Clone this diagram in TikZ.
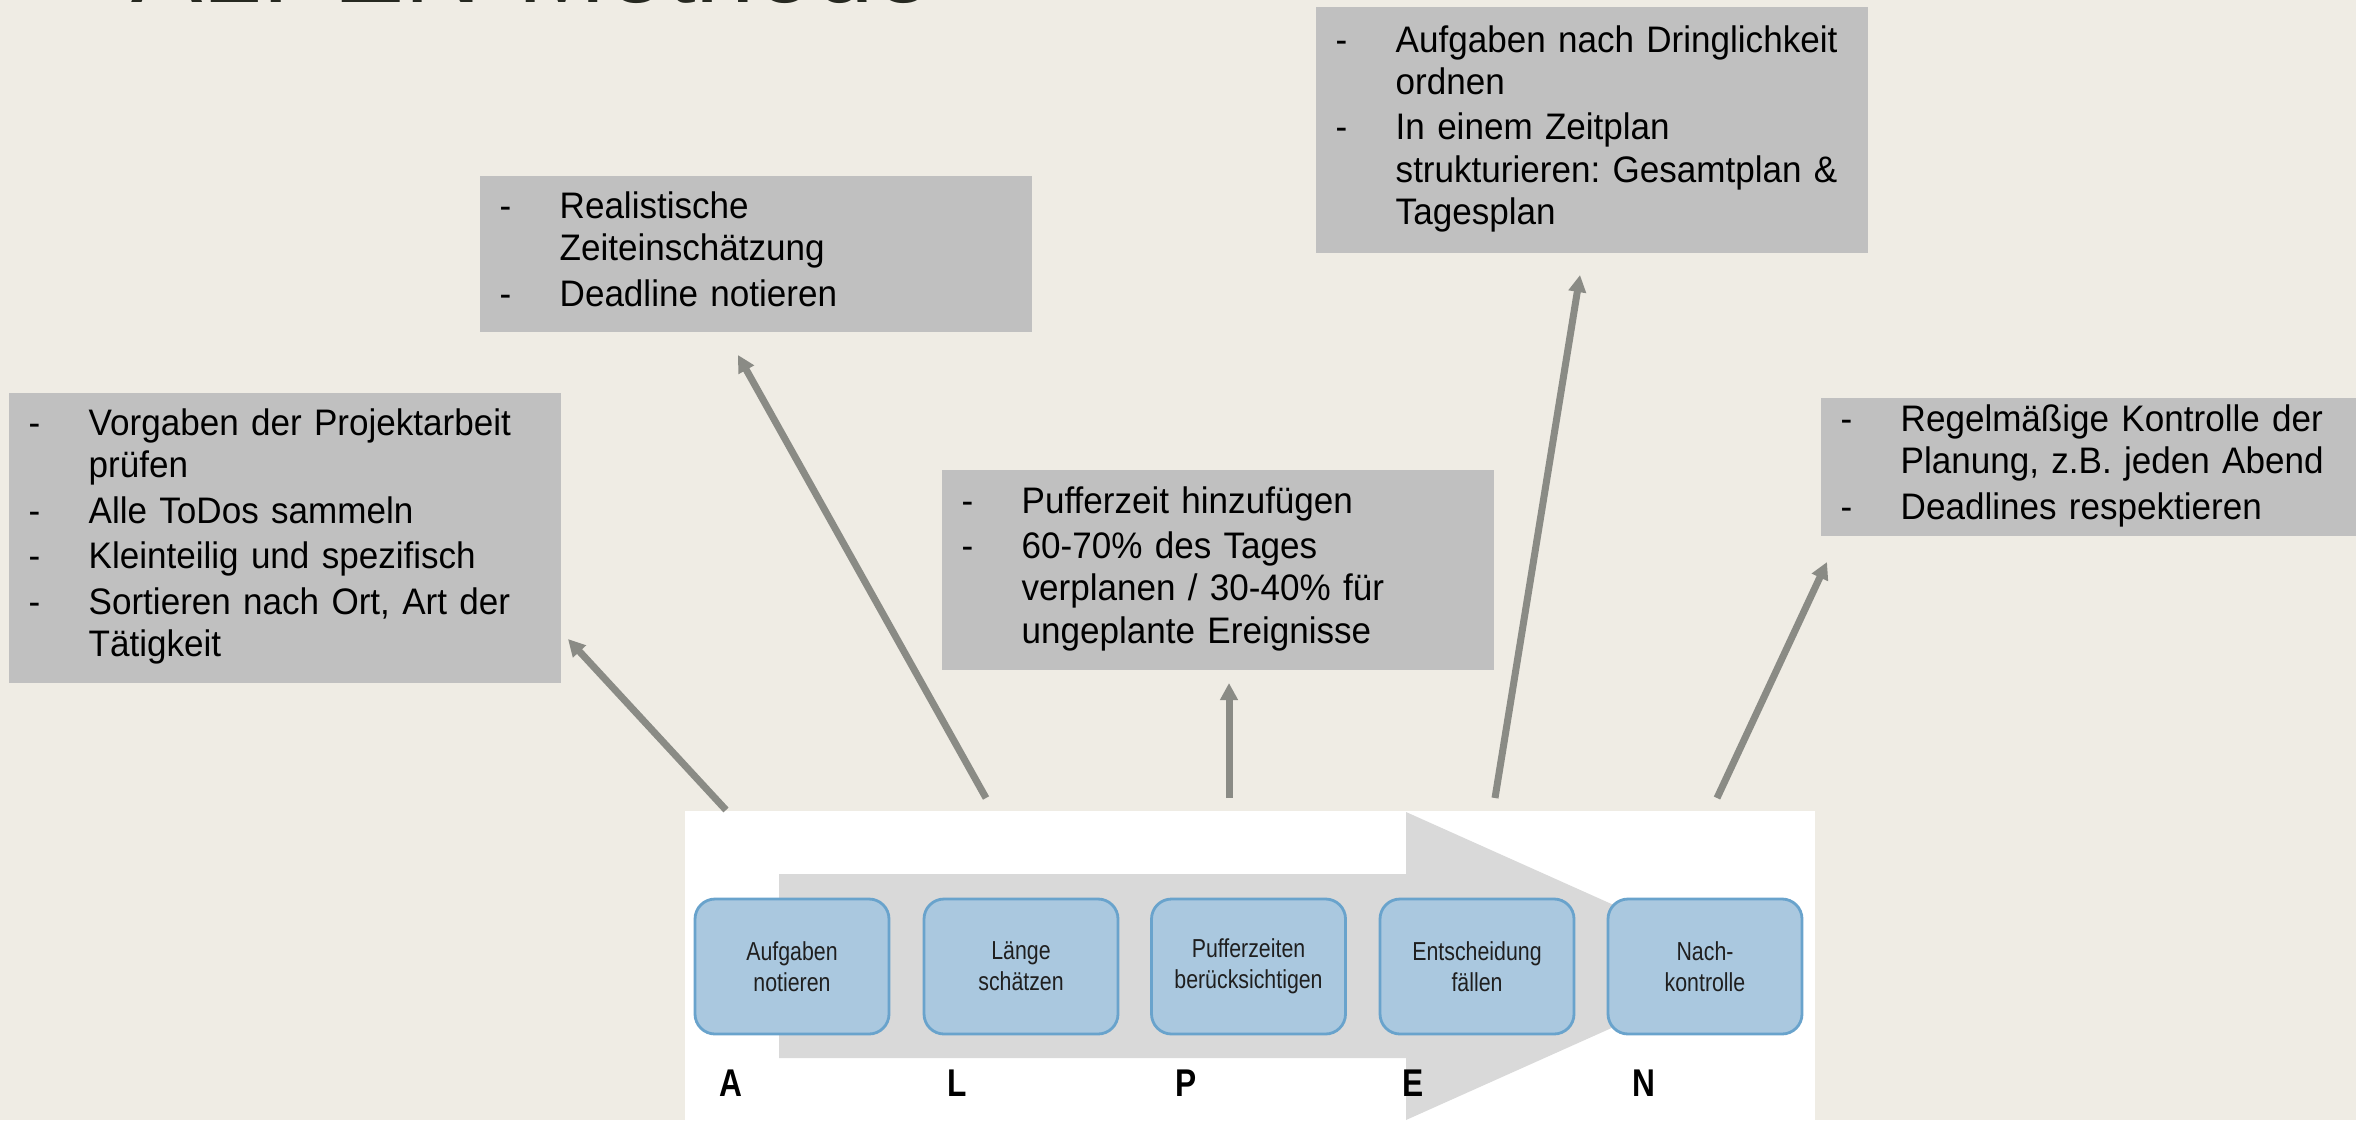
\documentclass[tikz,border=0pt]{standalone}
\usepackage{fontspec}
\setmainfont{Liberation Sans}[FakeStretch=0.95]
\newfontfamily\schmal{Liberation Sans}[FakeStretch=0.82]
\usetikzlibrary{arrows.meta}
\frenchspacing
\definecolor{grund}{RGB}{239,236,228}
\definecolor{kastengrau}{RGB}{192,192,192}
\definecolor{pfeilfarbe}{RGB}{138,139,133}
\definecolor{schaftgrau}{RGB}{217,217,217}
\definecolor{stufenblau}{RGB}{170,200,223}
\definecolor{stufenrand}{RGB}{105,163,204}
\definecolor{titelfarbe}{RGB}{38,40,32}
\newcommand{\punkte}[1]{\begin{tabular}{@{}p{0.6cm}@{}l@{}}#1\end{tabular}}
\tikzset{
  kasten/.style={fill=kastengrau, anchor=north west, inner xsep=0.2cm, inner ysep=0pt,
    text width=5.12cm, align=left, font=\fontsize{10.5}{12}\selectfont},
  stufe/.style={draw=stufenrand, fill=stufenblau, line width=0.8pt, rounded corners=0.2cm,
    minimum width=1.94cm, minimum height=1.35cm, align=center, text=black!88,
    font=\schmal\fontsize{7.4}{8.8}\selectfont},
  buchstabe/.style={font=\schmal\bfseries\fontsize{11}{13}\selectfont, inner sep=0pt},
  verbinder/.style={line width=0.07cm, draw=pfeilfarbe, -{Triangle[length=0.17cm,width=0.17cm]}}
}
\begin{document}
\begin{tikzpicture}
\useasboundingbox (0,0) rectangle (23.56,-11.2);
\clip (0,0) rectangle (23.56,-11.2);
\fill[grund] (0,0) rectangle (23.56,-11.2);
\node[anchor=base west, inner sep=0pt, text=titelfarbe, font=\fontsize{32}{38}\selectfont] (titel) at (1.31,-0.03) {ALPEN-Methode};

\node[kasten, minimum height=2.9cm] (vorgaben) at (0.08,-3.92) {\punkte{
  - & Vorgaben der Projektarbeit\\
    & prüfen\\[1pt]
  - & Alle ToDos sammeln\\[1pt]
  - & Kleinteilig und spezifisch\\[1pt]
  - & Sortieren nach Ort, Art der\\
    & Tätigkeit}};
\node[kasten, minimum height=1.56cm] (schaetzung) at (4.79,-1.75) {\punkte{
  - & Realistische\\
    & Zeiteinschätzung\\[1pt]
  - & Deadline notieren}};
\node[kasten, minimum height=2.0cm] (puffer) at (9.41,-4.69) {\punkte{
  - & Pufferzeit hinzufügen\\[1pt]
  - & 60-70\% des Tages\\
    & verplanen / 30-40\% für\\
    & ungeplante Ereignisse}};
\node[kasten, minimum height=2.46cm] (ordnen) at (13.15,-0.06) {\punkte{
  - & Aufgaben nach Dringlichkeit\\
    & ordnen\\[1pt]
  - & In einem Zeitplan\\
    & strukturieren: Gesamtplan \&\\
    & Tagesplan}};
\node[kasten, minimum height=1.38cm] (kontrolle) at (18.2,-3.97) {\punkte{
  - & Regelmäßige Kontrolle der\\
    & Planung, z.B. jeden Abend\\[1pt]
  - & Deadlines respektieren}};

\fill[white] (6.85,-8.11) rectangle (18.15,-11.2);
\fill[schaftgrau] (7.79,-8.74) -- (14.06,-8.74) -- (14.06,-8.12) -- (17.5,-9.66)
  -- (14.06,-11.2) -- (14.06,-10.58) -- (7.79,-10.58) -- cycle;

\node[stufe] (aufgaben) at (7.92,-9.665) {Aufgaben\\notieren};
\node[stufe] (laenge) at (10.21,-9.665) {Länge\\schätzen};
\node[stufe] (pufferzeiten) at (12.485,-9.665) {Pufferzeiten\\berücksichtigen};
\node[stufe] (entscheidung) at (14.77,-9.665) {Entscheidung\\fällen};
\node[stufe] (nachkontrolle) at (17.05,-9.665) {Nach-\\kontrolle};

\node[buchstabe] (bA) at (7.31,-10.83) {A};
\node[buchstabe] (bL) at (9.57,-10.83) {L};
\node[buchstabe] (bP) at (11.86,-10.83) {P};
\node[buchstabe] (bE) at (14.13,-10.83) {E};
\node[buchstabe] (bN) at (16.44,-10.83) {N};

\coordinate (s1) at (7.26,-8.1);
\coordinate (s2) at (9.86,-7.98);
\coordinate (s3) at (12.29,-7.98);
\coordinate (s4) at (14.95,-7.98);
\coordinate (s5) at (17.17,-7.98);
\coordinate (z1) at (5.68,-6.39);
\coordinate (z2) at (7.38,-3.55);
\coordinate (z3) at (12.29,-6.83);
\coordinate (z4) at (15.8,-2.75);
\coordinate (z5) at (18.27,-5.62);
\draw[verbinder] (s1) -- (z1);
\draw[verbinder] (s2) -- (z2);
\draw[verbinder] (s3) -- (z3);
\draw[verbinder] (s4) -- (z4);
\draw[verbinder] (s5) -- (z5);
\end{tikzpicture}
\end{document}
